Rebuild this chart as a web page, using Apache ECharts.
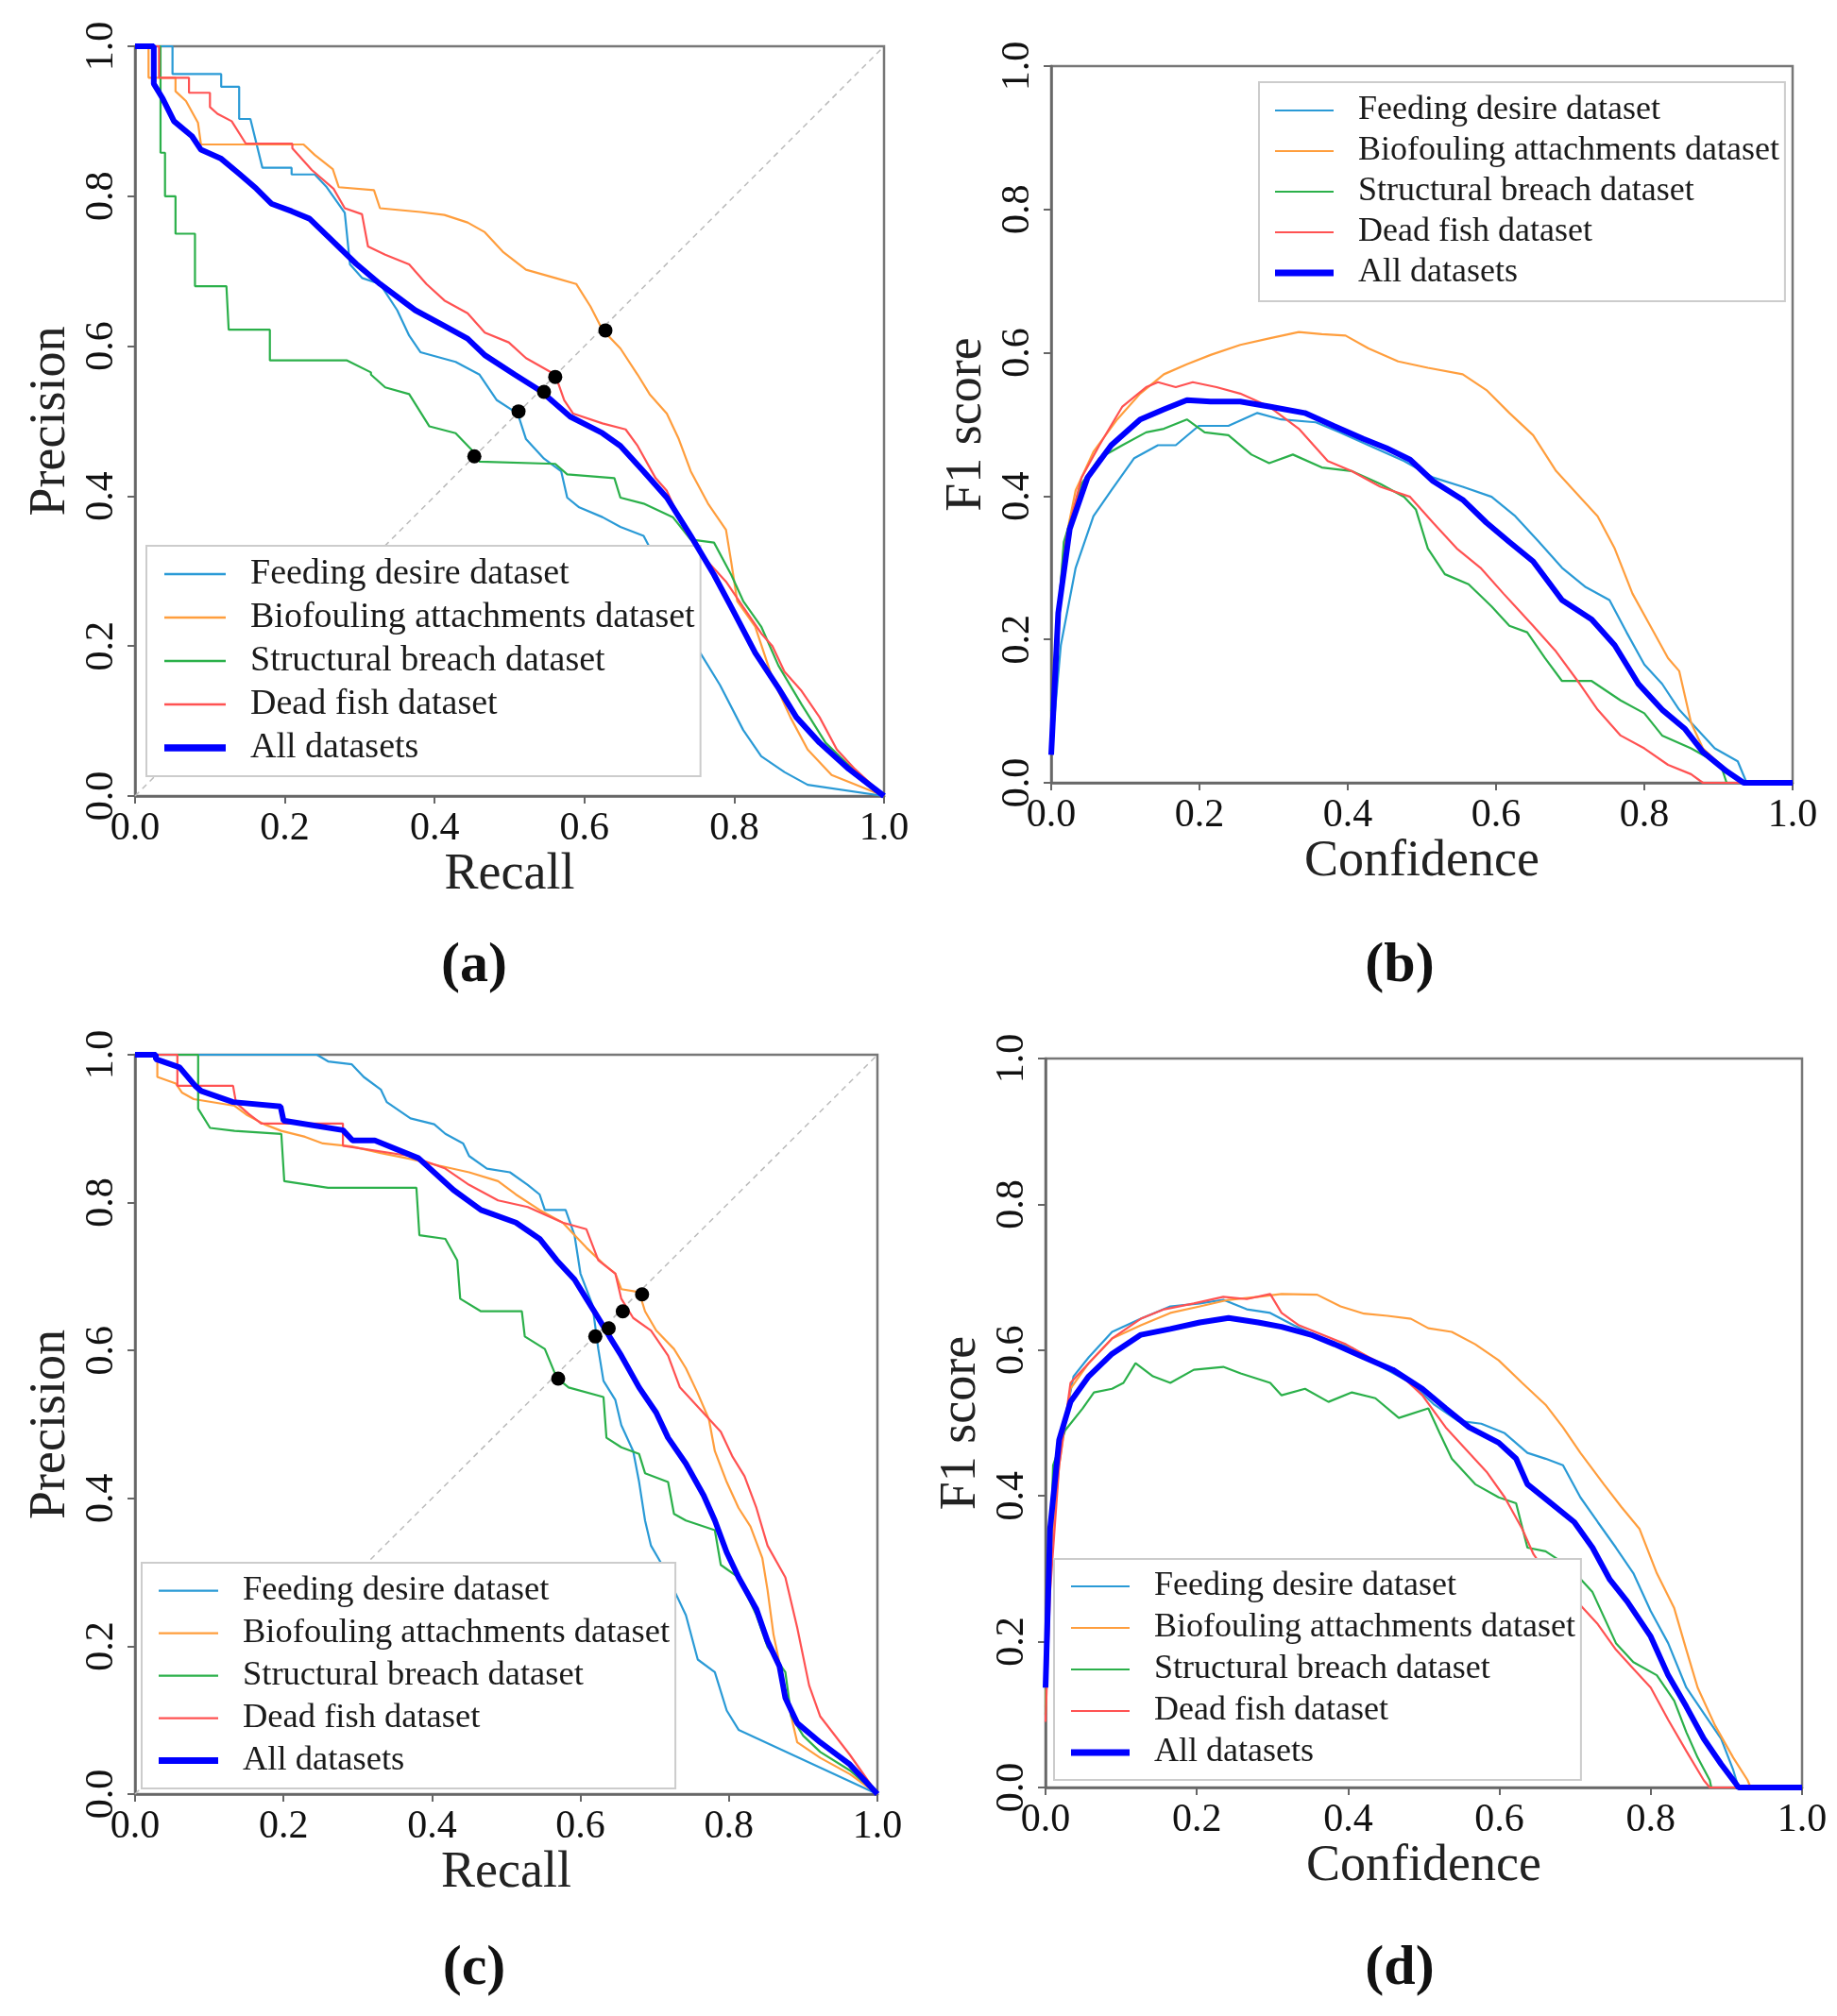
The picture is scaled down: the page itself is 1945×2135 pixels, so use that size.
<!DOCTYPE html>
<html>
<head>
<meta charset="utf-8">
<script src="https://cdn.jsdelivr.net/npm/echarts@6/dist/echarts.min.js"></script>
<style>
  html, body { margin: 0; padding: 0; background: #fff; }
  #container { width: 1945px; height: 2135px; }
</style>
</head>
<body>
<div id="container"></div>
<script>
// series names
var names = ["Feeding desire dataset", "Biofouling attachments dataset", "Structural breach dataset", "Dead fish dataset", "All datasets"];
var colors = ["#2a9ad6", "#ff9e3d", "#2bb04a", "#ff5252", "#0000ff"];

// (a) precision-recall  [recall, precision]
var feedA = [[0,1],[0.05,1],[0.05,0.963],[0.115,0.963],[0.115,0.946],[0.139,0.946],[0.139,0.903],[0.154,0.903],[0.17,0.838],[0.209,0.838],[0.209,0.829],[0.24,0.829],[0.256,0.812],[0.28,0.778],[0.287,0.709],[0.303,0.691],[0.327,0.683],[0.35,0.648],[0.366,0.614],[0.381,0.592],[0.428,0.579],[0.46,0.562],[0.483,0.528],[0.511,0.51],[0.522,0.476],[0.546,0.45],[0.569,0.433],[0.577,0.398],[0.593,0.385],[0.624,0.372],[0.648,0.359],[0.679,0.347],[0.702,0.303],[0.726,0.278],[0.742,0.252],[0.749,0.2],[0.781,0.148],[0.812,0.088],[0.836,0.053],[0.867,0.032],[0.898,0.015],[1,0]];
var bioA = [[0,1],[0.018,1],[0.018,0.958],[0.054,0.958],[0.054,0.94],[0.068,0.927],[0.084,0.898],[0.088,0.869],[0.18,0.869],[0.225,0.869],[0.24,0.855],[0.264,0.836],[0.272,0.812],[0.319,0.808],[0.327,0.784],[0.381,0.779],[0.413,0.775],[0.444,0.765],[0.467,0.752],[0.491,0.726],[0.522,0.702],[0.561,0.691],[0.589,0.683],[0.608,0.653],[0.624,0.622],[0.648,0.597],[0.671,0.562],[0.687,0.536],[0.71,0.51],[0.726,0.476],[0.742,0.433],[0.765,0.39],[0.789,0.355],[0.796,0.312],[0.804,0.26],[0.828,0.226],[0.851,0.157],[0.875,0.105],[0.898,0.062],[0.93,0.028],[1,0]];
var structA = [[0,1],[0.034,1],[0.034,0.858],[0.04,0.858],[0.04,0.8],[0.054,0.8],[0.054,0.75],[0.08,0.75],[0.08,0.68],[0.122,0.68],[0.125,0.622],[0.18,0.622],[0.18,0.581],[0.283,0.581],[0.315,0.565],[0.315,0.562],[0.334,0.545],[0.366,0.536],[0.393,0.493],[0.428,0.484],[0.452,0.459],[0.46,0.446],[0.561,0.443],[0.577,0.429],[0.64,0.424],[0.648,0.398],[0.679,0.39],[0.718,0.372],[0.742,0.342],[0.773,0.338],[0.796,0.295],[0.812,0.26],[0.836,0.226],[0.859,0.174],[0.89,0.122],[0.922,0.071],[0.953,0.041],[1,0]];
var deadA = [[0,1],[0.032,1],[0.032,0.958],[0.072,0.958],[0.072,0.938],[0.1,0.938],[0.1,0.919],[0.11,0.91],[0.129,0.9],[0.148,0.87],[0.21,0.87],[0.21,0.864],[0.236,0.835],[0.265,0.81],[0.28,0.784],[0.303,0.776],[0.311,0.733],[0.334,0.722],[0.366,0.709],[0.389,0.683],[0.413,0.661],[0.444,0.644],[0.467,0.618],[0.499,0.605],[0.522,0.584],[0.561,0.562],[0.573,0.528],[0.585,0.51],[0.624,0.497],[0.655,0.489],[0.671,0.467],[0.695,0.424],[0.71,0.407],[0.734,0.355],[0.757,0.321],[0.789,0.286],[0.812,0.252],[0.836,0.217],[0.851,0.2],[0.867,0.166],[0.89,0.14],[0.914,0.105],[0.937,0.062],[0.961,0.036],[1,0]];
var allA = [[0,1],[0.025,1],[0.025,0.95],[0.037,0.93],[0.052,0.9],[0.076,0.88],[0.088,0.862],[0.115,0.85],[0.139,0.83],[0.162,0.81],[0.182,0.79],[0.209,0.78],[0.233,0.77],[0.264,0.74],[0.295,0.71],[0.327,0.683],[0.374,0.648],[0.413,0.627],[0.444,0.61],[0.467,0.588],[0.507,0.562],[0.542,0.54],[0.581,0.506],[0.624,0.484],[0.648,0.467],[0.679,0.433],[0.71,0.398],[0.742,0.347],[0.773,0.295],[0.796,0.252],[0.828,0.191],[0.859,0.144],[0.883,0.105],[0.914,0.071],[0.953,0.036],[1,0]];
var dotsA = [[0.628,0.621],[0.561,0.559],[0.546,0.539],[0.512,0.513],[0.453,0.453]];

// (b) F1 vs confidence
var feedB = [[0,0.04],[0.013,0.192],[0.033,0.3],[0.057,0.372],[0.081,0.408],[0.112,0.453],[0.144,0.471],[0.168,0.471],[0.199,0.498],[0.239,0.498],[0.278,0.516],[0.31,0.507],[0.357,0.503],[0.389,0.489],[0.428,0.471],[0.476,0.449],[0.515,0.426],[0.555,0.413],[0.594,0.399],[0.626,0.372],[0.658,0.336],[0.689,0.3],[0.721,0.273],[0.753,0.255],[0.776,0.21],[0.8,0.165],[0.824,0.138],[0.847,0.102],[0.871,0.075],[0.895,0.048],[0.926,0.03],[0.938,0],[1,0]];
var bioB = [[0,0.05],[0.0055,0.19],[0.017,0.327],[0.033,0.408],[0.057,0.462],[0.089,0.507],[0.12,0.543],[0.152,0.57],[0.183,0.584],[0.215,0.597],[0.255,0.611],[0.294,0.62],[0.334,0.629],[0.365,0.626],[0.397,0.624],[0.428,0.606],[0.468,0.588],[0.508,0.579],[0.555,0.57],[0.587,0.548],[0.618,0.516],[0.65,0.485],[0.681,0.435],[0.713,0.399],[0.737,0.372],[0.76,0.327],[0.784,0.264],[0.808,0.219],[0.832,0.174],[0.847,0.156],[0.863,0.084],[0.879,0.048],[0.903,0.025],[0.926,0.007],[0.938,0],[1,0]];
var structB = [[0,0.1],[0.017,0.336],[0.041,0.417],[0.065,0.453],[0.096,0.471],[0.128,0.489],[0.152,0.494],[0.183,0.507],[0.207,0.489],[0.239,0.485],[0.27,0.458],[0.294,0.446],[0.326,0.458],[0.365,0.44],[0.405,0.435],[0.444,0.417],[0.476,0.399],[0.492,0.381],[0.508,0.327],[0.531,0.291],[0.563,0.277],[0.594,0.246],[0.618,0.219],[0.642,0.21],[0.666,0.174],[0.689,0.142],[0.729,0.142],[0.768,0.115],[0.8,0.097],[0.824,0.066],[0.863,0.048],[0.903,0.025],[0.911,0],[1,0]];
var deadB = [[0,0.057],[0.0095,0.237],[0.021,0.345],[0.041,0.426],[0.065,0.471],[0.096,0.525],[0.128,0.552],[0.144,0.559],[0.168,0.552],[0.191,0.559],[0.223,0.552],[0.255,0.543],[0.294,0.525],[0.334,0.494],[0.373,0.449],[0.405,0.435],[0.444,0.413],[0.484,0.399],[0.515,0.363],[0.547,0.327],[0.579,0.3],[0.61,0.264],[0.626,0.246],[0.65,0.219],[0.681,0.183],[0.713,0.138],[0.737,0.102],[0.768,0.066],[0.8,0.048],[0.832,0.025],[0.863,0.012],[0.879,0],[1,0]];
var allB = [[0,0.039],[0.0095,0.237],[0.025,0.354],[0.049,0.426],[0.081,0.471],[0.12,0.507],[0.152,0.521],[0.183,0.534],[0.215,0.532],[0.255,0.532],[0.294,0.525],[0.342,0.516],[0.381,0.498],[0.421,0.48],[0.452,0.467],[0.484,0.451],[0.515,0.421],[0.555,0.395],[0.587,0.363],[0.618,0.336],[0.65,0.309],[0.689,0.255],[0.729,0.228],[0.76,0.192],[0.792,0.138],[0.824,0.102],[0.855,0.075],[0.879,0.043],[0.911,0.016],[0.934,0],[1,0]];

// (c) precision-recall
var feedC = [[0,1],[0.245,1],[0.26,0.991],[0.292,0.987],[0.308,0.97],[0.331,0.953],[0.339,0.936],[0.371,0.914],[0.403,0.906],[0.418,0.893],[0.442,0.88],[0.45,0.863],[0.474,0.846],[0.505,0.841],[0.529,0.824],[0.545,0.811],[0.552,0.79],[0.58,0.79],[0.592,0.756],[0.6,0.704],[0.616,0.662],[0.624,0.602],[0.631,0.559],[0.647,0.533],[0.655,0.499],[0.671,0.464],[0.679,0.422],[0.687,0.37],[0.695,0.336],[0.71,0.31],[0.726,0.276],[0.742,0.242],[0.758,0.182],[0.781,0.165],[0.797,0.113],[0.813,0.087],[1,0]];
var bioC = [[0,1],[0.03,1],[0.03,0.97],[0.055,0.961],[0.063,0.949],[0.079,0.94],[0.134,0.931],[0.15,0.919],[0.174,0.906],[0.197,0.897],[0.229,0.889],[0.253,0.88],[0.292,0.876],[0.331,0.867],[0.371,0.859],[0.41,0.85],[0.45,0.841],[0.489,0.829],[0.513,0.811],[0.545,0.79],[0.576,0.773],[0.608,0.739],[0.631,0.717],[0.647,0.704],[0.655,0.683],[0.679,0.679],[0.687,0.653],[0.702,0.627],[0.726,0.602],[0.742,0.576],[0.758,0.542],[0.773,0.507],[0.781,0.464],[0.797,0.422],[0.813,0.387],[0.829,0.362],[0.845,0.319],[0.852,0.276],[0.86,0.216],[0.876,0.139],[0.892,0.07],[0.923,0.049],[0.963,0.027],[1,0]];
var structC = [[0,1],[0.085,1],[0.085,0.927],[0.101,0.901],[0.134,0.897],[0.197,0.893],[0.201,0.829],[0.26,0.82],[0.379,0.82],[0.383,0.756],[0.418,0.751],[0.434,0.722],[0.438,0.67],[0.466,0.653],[0.521,0.653],[0.525,0.619],[0.552,0.602],[0.568,0.563],[0.584,0.55],[0.631,0.537],[0.635,0.482],[0.655,0.469],[0.679,0.46],[0.687,0.434],[0.718,0.422],[0.726,0.379],[0.742,0.37],[0.781,0.357],[0.789,0.31],[0.813,0.293],[0.837,0.242],[0.852,0.199],[0.876,0.165],[0.884,0.105],[0.9,0.079],[0.923,0.057],[0.963,0.032],[1,0]];
var deadC = [[0,1],[0.057,1],[0.057,0.958],[0.132,0.958],[0.136,0.935],[0.153,0.92],[0.17,0.907],[0.28,0.907],[0.28,0.877],[0.371,0.863],[0.418,0.846],[0.45,0.824],[0.489,0.803],[0.529,0.794],[0.576,0.773],[0.608,0.764],[0.624,0.722],[0.647,0.704],[0.655,0.67],[0.671,0.644],[0.695,0.627],[0.718,0.593],[0.734,0.55],[0.758,0.524],[0.789,0.49],[0.805,0.456],[0.821,0.43],[0.837,0.387],[0.852,0.336],[0.876,0.293],[0.892,0.225],[0.908,0.147],[0.923,0.105],[0.963,0.053],[1,0]];
var allC = [[0,1],[0.028,1],[0.028,0.994],[0.06,0.983],[0.081,0.958],[0.089,0.951],[0.132,0.936],[0.196,0.93],[0.2,0.911],[0.28,0.898],[0.293,0.884],[0.323,0.884],[0.382,0.86],[0.429,0.817],[0.466,0.79],[0.513,0.773],[0.545,0.751],[0.568,0.722],[0.592,0.696],[0.608,0.67],[0.624,0.644],[0.639,0.619],[0.655,0.593],[0.679,0.55],[0.702,0.516],[0.718,0.482],[0.742,0.447],[0.766,0.404],[0.781,0.37],[0.797,0.327],[0.813,0.293],[0.837,0.25],[0.852,0.207],[0.868,0.173],[0.876,0.13],[0.892,0.096],[0.923,0.07],[0.963,0.04],[1,0]];
var dotsC = [[0.683,0.676],[0.657,0.653],[0.638,0.63],[0.62,0.619],[0.57,0.562]];

// (d) F1 vs confidence
var feedD = [[0,0.14],[0.0085,0.355],[0.022,0.486],[0.037,0.564],[0.057,0.59],[0.088,0.625],[0.126,0.643],[0.165,0.66],[0.204,0.664],[0.235,0.669],[0.266,0.656],[0.297,0.651],[0.328,0.634],[0.366,0.616],[0.405,0.603],[0.444,0.577],[0.483,0.555],[0.514,0.525],[0.545,0.503],[0.576,0.499],[0.607,0.486],[0.637,0.459],[0.661,0.451],[0.684,0.442],[0.707,0.398],[0.73,0.364],[0.754,0.329],[0.777,0.294],[0.8,0.242],[0.823,0.198],[0.847,0.137],[0.87,0.102],[0.893,0.067],[0.909,0.024],[0.916,0],[1,0]];
var bioD = [[0,0.11],[0.006,0.311],[0.018,0.442],[0.033,0.547],[0.057,0.582],[0.088,0.616],[0.126,0.634],[0.165,0.651],[0.204,0.66],[0.242,0.669],[0.281,0.673],[0.312,0.677],[0.359,0.676],[0.39,0.66],[0.421,0.65],[0.452,0.647],[0.483,0.643],[0.506,0.63],[0.537,0.625],[0.568,0.608],[0.599,0.586],[0.63,0.555],[0.661,0.525],[0.684,0.494],[0.707,0.459],[0.738,0.416],[0.761,0.385],[0.785,0.355],[0.808,0.294],[0.831,0.246],[0.847,0.189],[0.862,0.137],[0.885,0.085],[0.909,0.041],[0.928,0.01],[0.932,0],[1,0]];
var structD = [[0,0.1],[0.01,0.442],[0.026,0.49],[0.049,0.52],[0.064,0.542],[0.088,0.547],[0.103,0.555],[0.119,0.582],[0.142,0.564],[0.165,0.555],[0.196,0.573],[0.235,0.577],[0.258,0.568],[0.297,0.555],[0.312,0.538],[0.343,0.547],[0.374,0.529],[0.405,0.542],[0.436,0.534],[0.467,0.507],[0.506,0.52],[0.521,0.486],[0.537,0.451],[0.568,0.416],[0.599,0.398],[0.622,0.39],[0.637,0.329],[0.661,0.324],[0.692,0.303],[0.723,0.268],[0.754,0.198],[0.777,0.172],[0.808,0.154],[0.831,0.119],[0.847,0.076],[0.862,0.041],[0.878,0.01],[0.88,0],[1,0]];
var deadD = [[0,0.09],[0.006,0.268],[0.018,0.442],[0.033,0.555],[0.057,0.582],[0.088,0.616],[0.126,0.643],[0.157,0.656],[0.196,0.664],[0.235,0.673],[0.266,0.67],[0.297,0.677],[0.312,0.651],[0.335,0.634],[0.366,0.621],[0.397,0.608],[0.428,0.59],[0.467,0.568],[0.498,0.538],[0.529,0.494],[0.56,0.459],[0.583,0.433],[0.607,0.398],[0.63,0.355],[0.645,0.32],[0.668,0.285],[0.699,0.259],[0.73,0.224],[0.754,0.189],[0.777,0.163],[0.8,0.137],[0.823,0.093],[0.847,0.05],[0.87,0.01],[0.878,0],[1,0]];
var allD = [[0,0.137],[0.006,0.355],[0.018,0.477],[0.033,0.529],[0.057,0.564],[0.088,0.595],[0.126,0.621],[0.165,0.629],[0.204,0.638],[0.242,0.644],[0.281,0.638],[0.312,0.632],[0.351,0.621],[0.382,0.608],[0.421,0.59],[0.459,0.573],[0.498,0.547],[0.529,0.52],[0.56,0.494],[0.599,0.473],[0.622,0.451],[0.637,0.416],[0.668,0.39],[0.699,0.364],[0.723,0.329],[0.746,0.285],[0.769,0.255],[0.8,0.207],[0.823,0.154],[0.847,0.111],[0.87,0.067],[0.893,0.032],[0.912,0.006],[0.916,0],[1,0]];

var diagonal = [[0,0],[1,1]];
var panelLabels = ["(a)", "(b)", "(c)", "(d)"];

var serif = '"Liberation Serif", "Times New Roman", serif';

var panels = [
  { grid: {left: 143, top: 49, width: 793, height: 794}, x: "Recall", y: "Precision",
    curves: [feedA, bioA, structA, deadA, allA], dots: dotsA,
    legend: {left: 155, top: 578, lw: 65, pad: 19, fs: 38, gap: 8, vpad: 11}, label: {x: 497, y: 988} },
  { grid: {left: 1113, top: 70, width: 785, height: 759}, x: "Confidence", y: "F1 score",
    curves: [feedB, bioB, structB, deadB, allB], dots: null,
    legend: {left: 1333, top: 87, lw: 62, pad: 17, fs: 36, gap: 7, vpad: 12}, label: {x: 1477, y: 988} },
  { grid: {left: 143, top: 1117, width: 786, height: 783}, x: "Recall", y: "Precision",
    curves: [feedC, bioC, structC, deadC, allC], dots: dotsC,
    legend: {left: 150, top: 1655, lw: 63, pad: 18, fs: 36.5, gap: 8, vpad: 11}, label: {x: 497, y: 2050} },
  { grid: {left: 1107, top: 1121, width: 801, height: 772}, x: "Confidence", y: "F1 score",
    curves: [feedD, bioD, structD, deadD, allD], dots: null,
    legend: {left: 1116, top: 1651, lw: 62, pad: 18, fs: 36, gap: 8, vpad: 11}, label: {x: 1477, y: 2050} }
];

function axisBase(i, name, gap) {
  return {
    type: "value", gridIndex: i, min: 0, max: 1, interval: 0.2,
    name: name, nameLocation: "middle", nameGap: gap,
    nameTextStyle: {fontSize: 54, fontFamily: serif, color: "#222"},
    axisLine: {show: true, onZero: false, lineStyle: {color: "#666", width: 2.5}},
    axisTick: {show: true, length: 8, lineStyle: {color: "#666", width: 2}},
    splitLine: {show: false},
    axisLabel: {fontSize: 42, fontFamily: serif, color: "#111", margin: 14,
      formatter: function (v) { return v.toFixed(1); }}
  };
}

var option = {
  backgroundColor: "#fff",
  animation: false,
  grid: [], xAxis: [], yAxis: [], legend: [], title: [], series: []
};

panels.forEach(function (p, i) {
  option.grid.push(Object.assign({show: true, borderColor: "#777", borderWidth: 2.5, backgroundColor: "transparent"}, p.grid));
  option.xAxis.push(axisBase(i, p.x, 50));
  var ya = axisBase(i, p.y, 62);
  ya.axisLabel.rotate = 90;
  option.yAxis.push(ya);

  var lg = p.legend;
  option.legend.push({
    orient: "vertical", left: lg.left, top: lg.top,
    padding: [lg.vpad, 6, lg.vpad, lg.pad], itemGap: lg.gap,
    itemWidth: lg.lw, itemHeight: 14,
    borderColor: "#ccc", borderWidth: 2, backgroundColor: "#fff",
    textStyle: {fontSize: lg.fs, fontFamily: serif, color: "#1a1a1a", lineHeight: lg.fs, padding: [0, 0, 0, 21]},
    data: names.map(function (n, k) {
      return {name: n, icon: k === 4 ? "path://M0,0H70V8H0Z" : "path://M0,0H70V2.5H0Z"};
    })
  });

  option.title.push({
    text: panelLabels[i], left: p.label.x, top: p.label.y, textAlign: "center",
    textStyle: {fontSize: 60, fontWeight: "bold", fontFamily: serif, color: "#111"}
  });

  if (p.dots) {
    option.series.push({
      type: "line", xAxisIndex: i, yAxisIndex: i, data: diagonal, showSymbol: false,
      silent: true, lineStyle: {color: "#bbb", width: 1.5, type: [6, 5]}, z: 1
    });
  }

  p.curves.forEach(function (d, k) {
    option.series.push({
      name: names[k], type: "line", xAxisIndex: i, yAxisIndex: i, data: d,
      showSymbol: false, symbol: "none", color: colors[k],
      lineStyle: {width: k === 4 ? 6 : 2.2, color: colors[k]}, z: k === 4 ? 4 : 3
    });
  });

  if (p.dots) {
    option.series.push({
      type: "scatter", xAxisIndex: i, yAxisIndex: i, data: p.dots,
      symbolSize: 15, itemStyle: {color: "#000", opacity: 1}, z: 6
    });
  }
});

var myChart = echarts.init(document.getElementById("container"));
myChart.setOption(option);
</script>
</body>
</html>
